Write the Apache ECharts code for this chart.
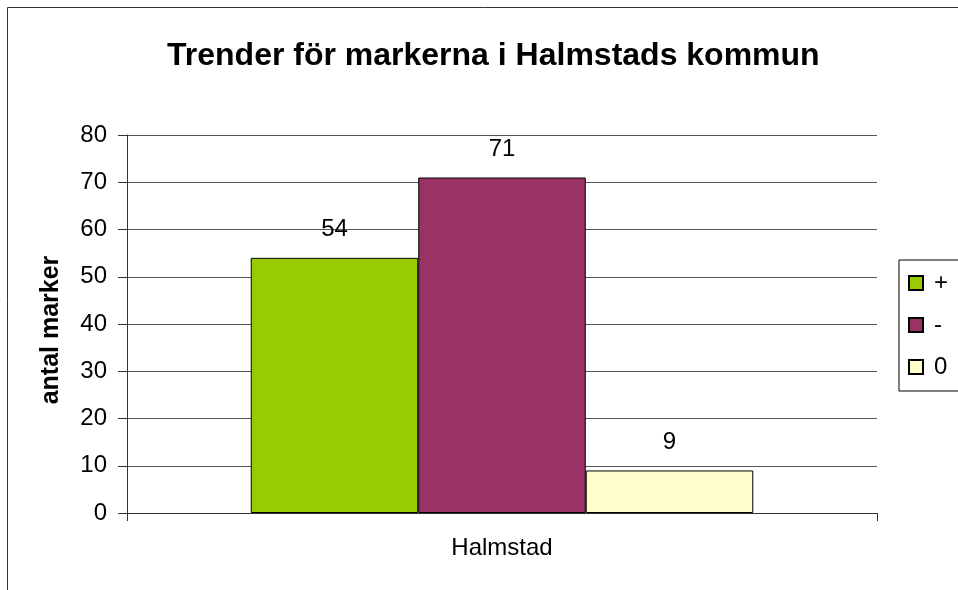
<!DOCTYPE html>
<html style="height: 100%">
<head>
    <meta charset="UTF-8">
    <title>Trender för markerna i Halmstads kommun</title>
    <script src="https://cdn.jsdelivr.net/npm/echarts/dist/echarts.min.js"></script>
</head>
<body style="height: 100%; margin: 0; background: #fff">
    <div id="main" style="width: 958px; height: 590px;"></div>
    <script>
        // data
        var categories = ['Halmstad'];
        var seriesNames = ['+', '-', '0'];
        var seriesValues = [[54], [71], [9]];
        var seriesColors = ['#99cc00', '#993366', '#ffffcc'];

        var myChart = echarts.init(document.getElementById('main'));

        var series = seriesNames.map(function (name, i) {
            return {
                name: name,
                type: 'bar',
                data: seriesValues[i],
                barGap: '0%',
                barCategoryGap: '33%',
                itemStyle: { color: seriesColors[i], borderColor: '#000', borderWidth: 1 },
                label: {
                    show: true, position: 'top', distance: 16,
                    color: '#000', fontSize: 24, fontFamily: 'Liberation Sans'
                }
            };
        });

        var option = {
            animation: false,
            textStyle: { fontFamily: 'Liberation Sans' },
            title: {
                text: 'Trender för markerna i Halmstads kommun',
                left: 162,
                top: 35,
                textStyle: { fontSize: 32, fontWeight: 'bold', color: '#000', fontFamily: 'Liberation Sans' }
            },
            legend: {
                orient: 'vertical',
                left: 899,
                top: 260,
                padding: [11, 40, 12, 9],
                itemWidth: 14,
                itemHeight: 14,
                itemGap: 18,
                borderColor: '#000',
                borderWidth: 1,
                textStyle: { fontSize: 24, color: '#000', padding: [0, 0, 0, 6] },
                data: seriesNames.map(function (n) { return { name: n, icon: 'rect' }; })
            },
            grid: { left: 127, right: 81, top: 135, bottom: 77, containLabel: false },
            xAxis: {
                type: 'category',
                data: categories,
                axisLine: { lineStyle: { color: '#333', width: 1 } },
                axisTick: { show: true, length: 8, lineStyle: { color: '#333' } },
                axisLabel: { color: '#000', fontSize: 24, margin: 23 }
            },
            yAxis: {
                type: 'value',
                min: 0, max: 80, interval: 10,
                name: 'antal marker',
                nameLocation: 'middle',
                nameGap: 63,
                nameRotate: 90,
                nameTextStyle: { fontSize: 25, fontWeight: 'bold', color: '#000', padding: [0, 12, 0, 0] },
                axisLine: { show: true, lineStyle: { color: '#333' } },
                axisTick: { show: true, length: 9, lineStyle: { color: '#333' } },
                axisLabel: { color: '#000', fontSize: 24, margin: 20 },
                splitLine: { lineStyle: { color: '#555', width: 1 } }
            },
            graphic: [{
                type: 'rect',
                shape: { x: 7.5, y: 7.5, width: 1000, height: 1000 },
                style: { fill: 'none', stroke: '#333', lineWidth: 1 },
                silent: true
            }],
            series: series
        };

        myChart.setOption(option);
    </script>
</body>
</html>
